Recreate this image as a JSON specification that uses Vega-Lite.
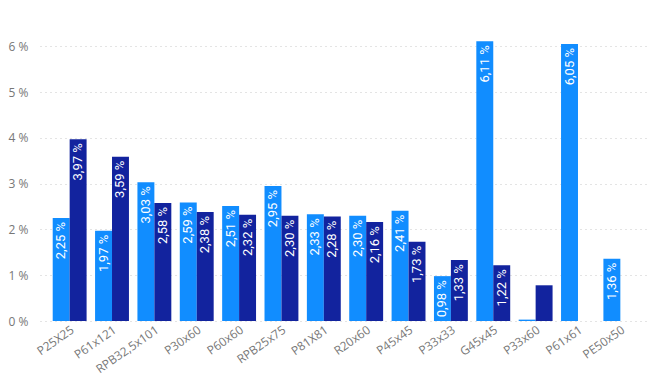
{
  "$schema": "https://vega.github.io/schema/vega-lite/v6.json",
  "autosize": "none",
  "width": 610,
  "height": 293,
  "padding": {"left": 40, "top": 28, "right": 4, "bottom": 53},
  "background": "white",
  "config": {
    "view": {"stroke": null},
    "font": "Open Sans"
  },
  "data": {
    "values": [
      {"cat": "P25X25", "serie": "Serie 1", "v": 2.25},
      {"cat": "P25X25", "serie": "Serie 2", "v": 3.97},
      {"cat": "P61x121", "serie": "Serie 1", "v": 1.97},
      {"cat": "P61x121", "serie": "Serie 2", "v": 3.59},
      {"cat": "RPB32,5x101", "serie": "Serie 1", "v": 3.03},
      {"cat": "RPB32,5x101", "serie": "Serie 2", "v": 2.58},
      {"cat": "P30x60", "serie": "Serie 1", "v": 2.59},
      {"cat": "P30x60", "serie": "Serie 2", "v": 2.38},
      {"cat": "P60x60", "serie": "Serie 1", "v": 2.51},
      {"cat": "P60x60", "serie": "Serie 2", "v": 2.32},
      {"cat": "RPB25x75", "serie": "Serie 1", "v": 2.95},
      {"cat": "RPB25x75", "serie": "Serie 2", "v": 2.30},
      {"cat": "P81X81", "serie": "Serie 1", "v": 2.33},
      {"cat": "P81X81", "serie": "Serie 2", "v": 2.28},
      {"cat": "R20x60", "serie": "Serie 1", "v": 2.30},
      {"cat": "R20x60", "serie": "Serie 2", "v": 2.16},
      {"cat": "P45x45", "serie": "Serie 1", "v": 2.41},
      {"cat": "P45x45", "serie": "Serie 2", "v": 1.73},
      {"cat": "P33x33", "serie": "Serie 1", "v": 0.98},
      {"cat": "P33x33", "serie": "Serie 2", "v": 1.33},
      {"cat": "G45x45", "serie": "Serie 1", "v": 6.11},
      {"cat": "G45x45", "serie": "Serie 2", "v": 1.22},
      {"cat": "P33x60", "serie": "Serie 1", "v": 0.03},
      {"cat": "P33x60", "serie": "Serie 2", "v": 0.78},
      {"cat": "P61x61", "serie": "Serie 1", "v": 6.05},
      {"cat": "PE50x50", "serie": "Serie 1", "v": 1.36}
    ]
  },
  "encoding": {
    "x": {
      "field": "cat",
      "type": "nominal",
      "sort": null,
      "scale": {"paddingInner": 0.2, "paddingOuter": 0.3},
      "axis": {
        "title": null,
        "labelAngle": -35,
        "labelAlign": "right",
        "labelBaseline": "top",
        "labelFontSize": 12,
        "labelColor": "#777777",
        "labelPadding": 3,
        "ticks": false,
        "domain": false
      }
    },
    "xOffset": {"field": "serie", "type": "nominal", "scale": {"domain": ["Serie 1", "Serie 2"], "paddingInner": 0}},
    "y": {
      "field": "v",
      "type": "quantitative",
      "scale": {"domain": [0, 6.4], "nice": false},
      "axis": {
        "title": null,
        "values": [0, 1, 2, 3, 4, 5, 6],
        "labelExpr": "datum.value + ' %'",
        "labelFontSize": 12,
        "labelColor": "#777777",
        "labelPadding": 12,
        "ticks": false,
        "domain": false,
        "gridColor": "#C8C8C8",
        "gridDash": [1, 4],
        "gridWidth": 1
      }
    }
  },
  "layer": [
    {
      "mark": {"type": "bar"},
      "encoding": {
        "color": {
          "field": "serie",
          "type": "nominal",
          "scale": {"domain": ["Serie 1", "Serie 2"], "range": ["#118DFF", "#12239E"]},
          "legend": null
        }
      }
    },
    {
      "transform": [{"filter": "datum.v > 0.9"}],
      "mark": {
        "type": "text",
        "angle": 270,
        "align": "right",
        "baseline": "middle",
        "dx": -4,
        "fontSize": 13,
        "font": "Roboto",
        "color": "white",
        "text": {"expr": "replace(format(datum.v, '.2f'), '.', ',') + ' %'"}
      }
    }
  ]
}
